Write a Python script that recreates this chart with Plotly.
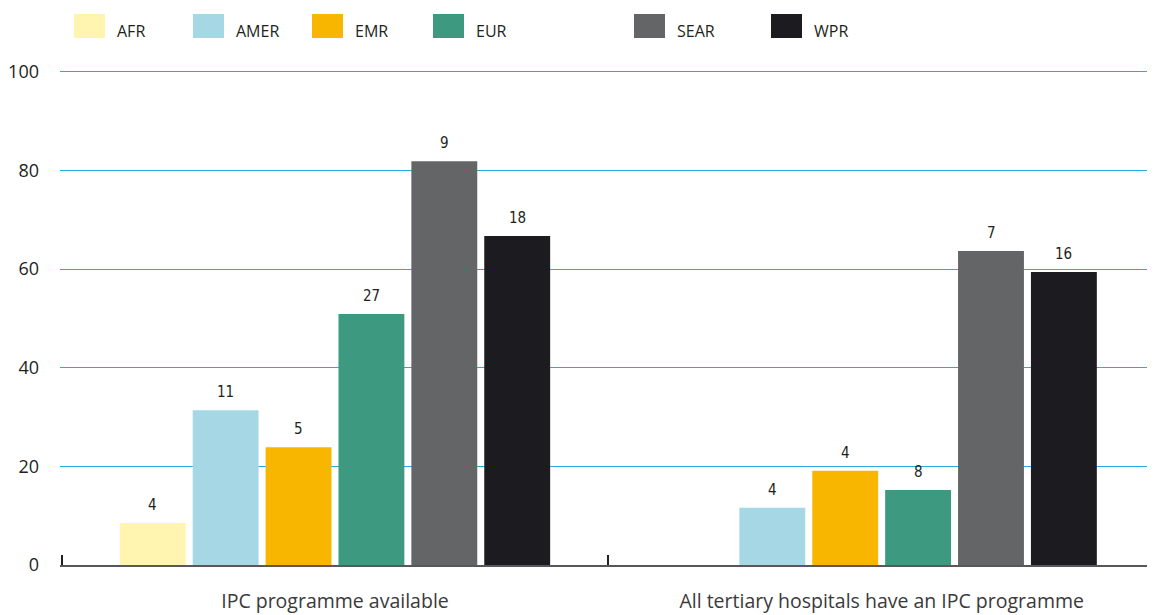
import plotly.graph_objects as go

categories = ["IPC programme available", "All tertiary hospitals have an IPC programme"]
regions = ["AFR", "AMER", "EMR", "EUR", "SEAR", "WPR"]
colors = ["#fff5b1", "#a5d8e4", "#f9b600", "#3d9980", "#646567", "#1c1b1f"]
# percentage values per region [group1, group2]
values = {
    "AFR": [8.5, 0],
    "AMER": [31.4, 11.6],
    "EMR": [23.9, 19.1],
    "EUR": [50.9, 15.2],
    "SEAR": [81.9, 63.7],
    "WPR": [66.7, 59.4],
}
# number labels shown above bars
counts = {
    "AFR": ["4", ""],
    "AMER": ["11", "4"],
    "EMR": ["5", "4"],
    "EUR": ["27", "8"],
    "SEAR": ["9", "7"],
    "WPR": ["18", "16"],
}
y_ticks = [0, 20, 40, 60, 80, 100]

# legend layout (window-pixel positions of swatch left edges)
legend_x_px = [74, 193, 312, 433, 634, 771]

OFF = 8  # page body margin
W, H = 1155 - OFF, 615 - OFF
YMAX = 101
L, T, B = 60 - OFF, 72 - OFF - 5, 50
PW, PH = W - L, H - T - B

BARGAP, GROUPGAP = 0.2, 0.096
n = len(regions)
slot = (1 - BARGAP) / n

fig = go.Figure()
for j, (r, c) in enumerate(zip(regions, colors)):
    fig.add_trace(go.Bar(
        name=r, x=categories, y=values[r], marker=dict(color=c, line=dict(width=0)),
        showlegend=False,
    ))
    for i, (v, t) in enumerate(zip(values[r], counts[r])):
        if t:
            fig.add_annotation(x=i + (j - (n - 1) / 2) * slot, y=v, text=t,
                               showarrow=False, yanchor="bottom", yshift=7,
                               font=dict(family="DejaVu Sans Condensed", size=15, color="#231f20"))

# custom legend with large swatches
for r, c, px in zip(regions, colors, legend_x_px):
    fig.add_shape(type="rect", xref="paper", yref="paper",
                  x0=(px - 60) / PW, x1=(px + 31 - 60) / PW,
                  y0=(565 - 38) / PH, y1=(565 - 14) / PH,
                  fillcolor=c, line=dict(width=0), layer="above")
    fig.add_annotation(xref="paper", yref="paper", x=(px + 41 - 60) / PW,
                       y=(565 - 31) / PH, text=r, showarrow=False,
                       xanchor="left", yanchor="middle",
                       font=dict(family="Open Sans", size=16, color="#231f20"))

fig.update_layout(
    width=W, height=H,
    margin=dict(l=L, r=0, t=T, b=B),
    paper_bgcolor="white", plot_bgcolor="white",
    barmode="group", bargap=BARGAP, bargroupgap=GROUPGAP,
    showlegend=False,
    font=dict(family="Open Sans", color="#231f20"),
)
fig.update_yaxes(
    range=[0, YMAX], tickvals=y_ticks, showgrid=True, gridcolor="#29abe2", gridwidth=1,
    zeroline=False, showline=False, ticks="", ticklabelstandoff=20,
    tickfont=dict(family="Open Sans", size=18, color="#231f20"),
)
fig.update_xaxes(
    range=[-0.503, 1.5],
    showline=True, linecolor="#58585a", linewidth=2, ticks="inside", tickson="boundaries",
    ticklen=10, tickwidth=2, tickcolor="#231f20", showgrid=False,
    tickfont=dict(family="Open Sans", size=19.5, color="#3a3a3a"), ticklabelstandoff=18,
)

fig.write_html("out.html")
